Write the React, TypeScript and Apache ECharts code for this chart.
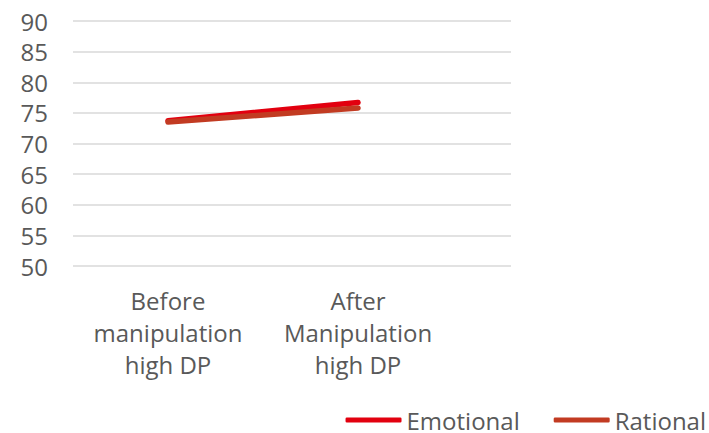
import React, { useEffect, useRef } from "react";
import * as echarts from "echarts";

const categories = ["Before\nmanipulation\nhigh DP", "After\nManipulation\nhigh DP"];
const emotional = [73.7, 76.7];
const rational = [73.5, 75.8];
const yMin = 50;
const yMax = 90;
const yStep = 5;

export default function App() {
  const ref = useRef<HTMLDivElement>(null);
  useEffect(() => {
    if (!ref.current) return;
    const chart = echarts.init(ref.current, null, { renderer: "svg" });
    const font = "'Open Sans', 'Noto Sans', sans-serif";
    const gray = "#595959";
    chart.setOption({
      animation: false,
      backgroundColor: "#ffffff",
      grid: [
        { left: 73, top: 21, width: 380, height: 245 },
        { left: 73, top: 21, width: 438, height: 245 },
      ],
      xAxis: [
        {
          type: "category",
          gridIndex: 0,
          data: categories,
          axisLine: { show: false },
          axisTick: { show: false },
          axisLabel: {
            interval: 0,
            fontSize: 24,
            lineHeight: 32,
            color: gray,
            fontFamily: font,
            margin: 18,
            align: "center",
          },
        },
        { type: "category", gridIndex: 1, data: [""], show: false },
      ],
      yAxis: [
        { type: "value", gridIndex: 0, min: yMin, max: yMax, interval: yStep, show: false },
        {
          type: "value",
          gridIndex: 1,
          min: yMin,
          max: yMax,
          interval: yStep,
          axisLine: { show: false },
          axisTick: { show: false },
          axisLabel: { fontSize: 24, color: gray, fontFamily: font, margin: 25 },
          splitLine: { lineStyle: { color: "#d9d9d9", width: 1.5 } },
        },
      ],
      legend: {
        right: 3,
        top: 408,
        padding: 0,
        itemWidth: 56,
        itemHeight: 5,
        itemGap: 34,
        icon: "roundRect",
        textStyle: { fontSize: 24, lineHeight: 24, color: gray, fontFamily: font },
        data: ["Emotional", "Rational"],
      },
      series: [
        {
          name: "Emotional",
          type: "line",
          xAxisIndex: 0,
          yAxisIndex: 0,
          data: emotional,
          showSymbol: false,
          symbol: "none",
          color: "#e2000f",
          lineStyle: { width: 5.5, color: "#e2000f", cap: "round" },
        },
        {
          name: "Rational",
          type: "line",
          xAxisIndex: 0,
          yAxisIndex: 0,
          data: rational,
          showSymbol: false,
          symbol: "none",
          color: "#c23b22",
          lineStyle: { width: 5.5, color: "#c23b22", cap: "round" },
        },
      ],
    });
    return () => chart.dispose();
  }, []);
  return (
    <div
      ref={ref}
      style={{ position: "fixed", left: 0, top: 0, width: 709, height: 433 }}
    />
  );
}
